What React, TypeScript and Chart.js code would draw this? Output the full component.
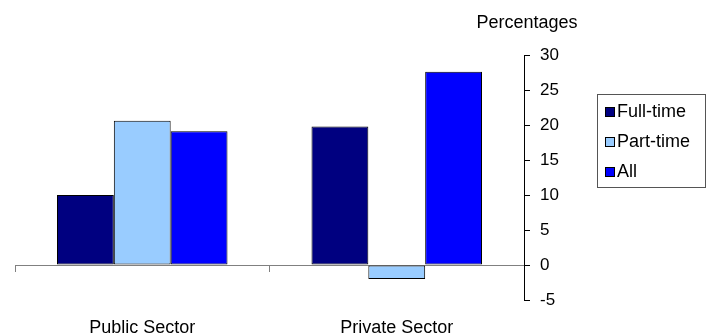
import React, { useEffect, useRef } from 'react';
import { Chart, registerables } from 'chart.js';

Chart.register(...registerables);

const categories = ['Public Sector', 'Private Sector'];
const fullTime = [10, 19.8];
const partTime = [20.6, -2];
const allWorkers = [19.1, 27.6];
const seriesLabels = ['Full-time', 'Part-time', 'All'];
const seriesColors = ['#000080', '#99CCFF', '#0000FF'];
const yMin = -5;
const yMax = 30;
const yStep = 5;
const axisTitle = 'Percentages';

const FONT = '"Liberation Sans", Arial, sans-serif';
const W = 711;
const H = 335;

const titlePlugin = {
  id: 'axisTitleTop',
  afterDraw(chart: any) {
    const ctx = chart.ctx;
    const ys = chart.scales.y;
    ctx.save();
    ctx.font = `18px ${FONT}`;
    ctx.fillStyle = '#000';
    ctx.textAlign = 'center';
    ctx.textBaseline = 'middle';
    ctx.fillText(axisTitle, ys.left + 3, 23);
    ctx.restore();
  },
};

const legendPlugin = {
  id: 'boxLegend',
  afterDraw(chart: any) {
    const ctx = chart.ctx;
    const x0 = 597;
    const y0 = 94;
    const w = 108;
    const h = 93;
    ctx.save();
    ctx.strokeStyle = '#555';
    ctx.lineWidth = 1;
    ctx.strokeRect(x0 + 0.5, y0 + 0.5, w, h);
    ctx.font = `18px ${FONT}`;
    ctx.textAlign = 'left';
    ctx.textBaseline = 'middle';
    chart.data.datasets.forEach((ds: any, i: number) => {
      const cy = 112 + i * 30;
      ctx.fillStyle = ds.backgroundColor;
      ctx.fillRect(x0 + 8, cy - 5, 10, 10);
      ctx.strokeStyle = '#000';
      ctx.strokeRect(x0 + 8.5, cy - 4.5, 9, 9);
      ctx.fillStyle = '#000';
      ctx.fillText(ds.label, x0 + 20, cy);
    });
    ctx.restore();
  },
};

export default function App() {
  const ref = useRef<HTMLCanvasElement | null>(null);

  useEffect(() => {
    if (!ref.current) return;
    const data = [fullTime, partTime, allWorkers];
    const chart = new Chart(ref.current, {
      type: 'bar',
      data: {
        labels: categories,
        datasets: seriesLabels.map((label, i) => ({
          label,
          data: data[i],
          backgroundColor: seriesColors[i],
          borderColor: '#000',
          borderWidth: 1,
          borderSkipped: false,
          categoryPercentage: 0.67,
          barPercentage: 1,
        })),
      },
      options: {
        animation: false,
        responsive: false,
        devicePixelRatio: 1,
        layout: { padding: { left: 15, top: 55, right: 0, bottom: 35 } },
        plugins: {
          legend: { display: false },
          tooltip: { enabled: false },
          title: { display: false },
        },
        scales: {
          x: {
            type: 'category',
            position: { y: 0 } as any,
            offset: true,
            grid: {
              offset: true,
              drawOnChartArea: false,
              drawTicks: true,
              tickLength: 6,
              color: '#808080',
            },
            border: { display: true, color: '#808080', width: 1 },
            ticks: {
              padding: 46,
              color: '#000',
              maxRotation: 0,
              autoSkip: false,
              font: { family: FONT, size: 18 },
            },
            afterFit: (s: any) => {
              s.height = 0;
            },
          },
          y: {
            position: 'right',
            min: yMin,
            max: yMax,
            ticks: {
              stepSize: yStep,
              padding: 10,
              color: '#000',
              font: { family: FONT, size: 17 },
            },
            grid: {
              drawOnChartArea: false,
              drawTicks: true,
              tickLength: 6,
              color: '#000',
            },
            border: { display: true, color: '#000', width: 1 },
            afterFit: (s: any) => {
              s.width = W - 524;
            },
          },
        },
      },
      plugins: [titlePlugin, legendPlugin],
    });
    return () => chart.destroy();
  }, []);

  return (
    <div style={{ position: 'fixed', left: 0, top: 0, width: W, height: H, background: '#fff' }}>
      <canvas ref={ref} width={W} height={H} style={{ display: 'block' }} />
    </div>
  );
}
